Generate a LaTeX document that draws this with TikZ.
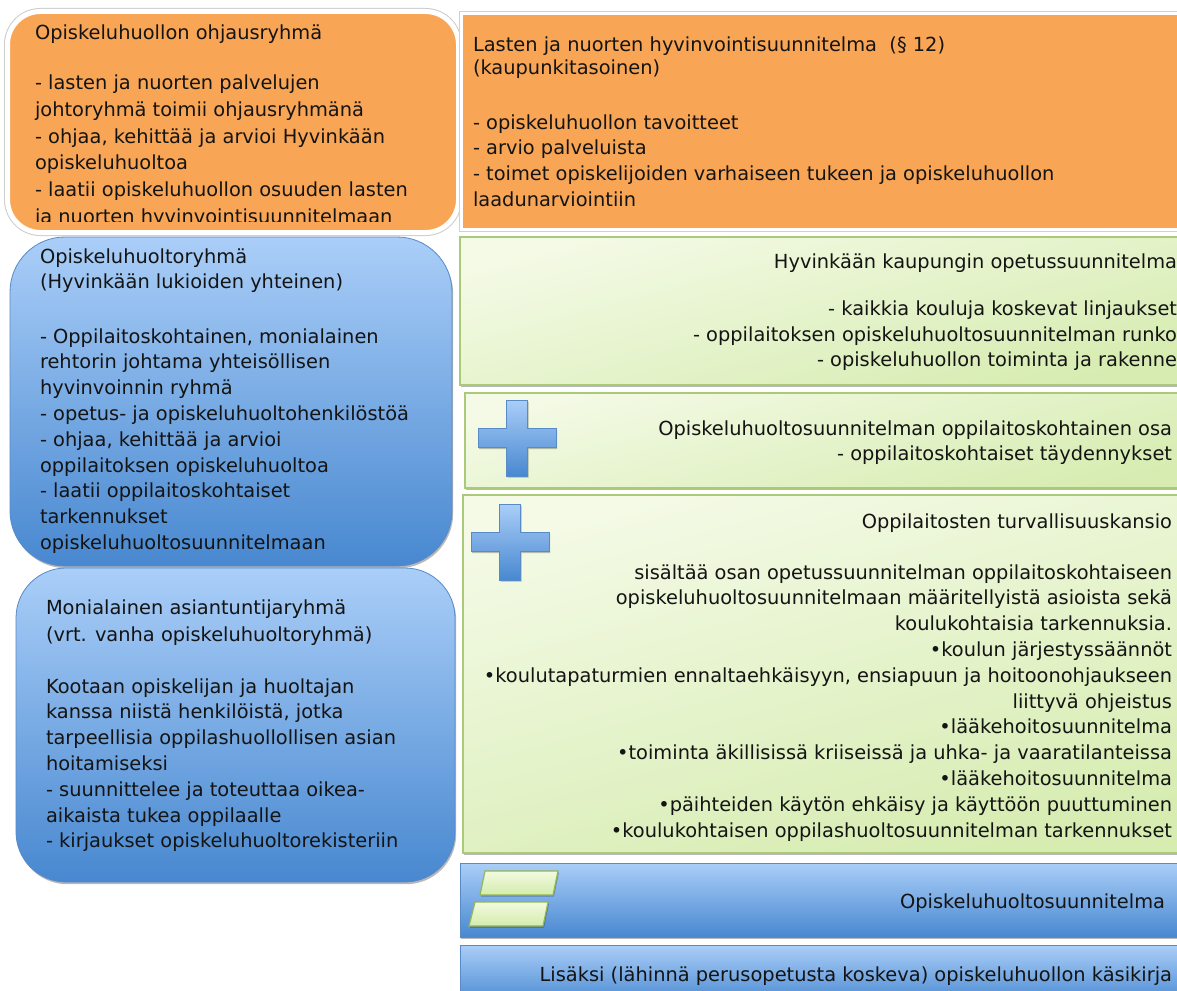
\documentclass[tikz,border=0pt]{standalone}
\usepackage{fontspec}
\setmainfont{DejaVu Sans}
\usetikzlibrary{shadows}

\definecolor{orangeC}{RGB}{248,166,86}
\definecolor{blueTop}{RGB}{170,206,248}
\definecolor{blueBot}{RGB}{72,136,208}
\definecolor{blueEdge}{RGB}{88,138,200}
\definecolor{greenTop}{RGB}{244,250,230}
\definecolor{greenBot}{RGB}{214,236,176}
\definecolor{greenEdge}{RGB}{170,202,122}
\definecolor{paraTop}{RGB}{242,250,224}
\definecolor{paraBot}{RGB}{212,236,172}
\definecolor{paraEdge}{RGB}{150,182,82}
\definecolor{inkC}{RGB}{20,20,20}

\tikzset{
  softshadow/.style={drop shadow={shadow xshift=1.2pt, shadow yshift=-2.2pt, opacity=0.28, fill=black}},
  panel/.style={inner sep=0pt, outer sep=0pt, anchor=north west, softshadow},
  orangeround/.style={panel, preaction={draw=black!20, line width=7pt}, fill=orangeC, draw=white,
                      line width=5pt, rounded corners=33pt},
  orangerect/.style={panel, preaction={draw=black!18, line width=4.6pt}, fill=orangeC, draw=white, line width=3pt},
  blueround/.style={panel, top color=blueTop, bottom color=blueBot, draw=blueEdge, line width=0.8pt},
  greenrect/.style={panel, top color=greenTop, bottom color=greenBot, shading angle=15, draw=greenEdge, line width=1.4pt},
  bluerect/.style={panel, top color=blueTop, bottom color=blueBot, draw=blueEdge, line width=1pt},
  txt/.style={inner sep=0pt, outer sep=0pt, text=inkC, align=left, anchor=north west,
              font=\fontsize{19.4}{25.8}\selectfont},
  rtxt/.style={txt, align=right, anchor=north east},
  plusshape/.style={top color=blueTop, bottom color=blueBot, draw=blueEdge, line width=1pt,
                    drop shadow={shadow xshift=1pt, shadow yshift=-1.5pt, opacity=0.25, fill=black}},
  parashape/.style={top color=paraTop, bottom color=paraBot, draw=paraEdge, line width=1.2pt,
                    drop shadow={shadow xshift=1pt, shadow yshift=-1.5pt, opacity=0.25, fill=black}},
  pics/plusicon/.style={code={
    \path[plusshape] (-10.5,-38) -- (10.5,-38) -- (10.5,-9.5) -- (39,-9.5) -- (39,9.5)
      -- (10.5,9.5) -- (10.5,38) -- (-10.5,38) -- (-10.5,9.5) -- (-39,9.5) -- (-39,-9.5)
      -- (-10.5,-9.5) -- cycle;
  }},
}

\begin{document}
\begin{tikzpicture}[x=1pt,y=-1pt]
\useasboundingbox (0,0) rectangle (1177,990);
\clip (0,0) rectangle (1177,990);
\fill[white] (0,0) rectangle (1177,990);

% ---- left column: groups ----
\node[orangeround, minimum width=451pt, minimum height=221pt] (ohjaus) at (7.5,11.5) {};
\node[blueround, rounded corners=55pt, minimum width=442pt, minimum height=329pt] (ryhma) at (10,237) {};
\node[blueround, rounded corners=50pt, minimum width=439pt, minimum height=314pt] (asiant) at (16,568) {};

% ---- right column: plans ----
\node[orangerect, minimum width=740pt, minimum height=216pt] (hyvsuun) at (461,13.5) {};
\node[greenrect, minimum width=740pt, minimum height=148pt] (ops) at (460,237) {};
\node[greenrect, minimum width=740pt, minimum height=95pt] (osa) at (465,393) {};
\node[greenrect, minimum width=740pt, minimum height=358pt] (kansio) at (463,495) {};
\node[bluerect, minimum width=740pt, minimum height=74pt] (osuun) at (460,863) {};
\node[bluerect, minimum width=740pt, minimum height=60pt] (kasikirja) at (460,945) {};

% ---- icons ----
\pic at (517,438) {plusicon};
\pic at (510,542) {plusicon};
\path[parashape] (485,871) -- (558,871) -- (553,895) -- (480,895) -- cycle;
\path[parashape] (475,902) -- (548,902) -- (543,926) -- (469,926) -- cycle;

% ---- texts: left column ----
\begin{scope}
\clip (0,0) rectangle (460,221);
\node[txt] (ohjausT) at (35,21) {\strut Opiskeluhuollon ohjausryhmä};
\node[txt, font=\fontsize{19.4}{26.7}\selectfont] (ohjausB) at (35,71) {\strut - lasten ja nuorten palvelujen\\
johtoryhmä toimii ohjausryhmänä\\
- ohjaa, kehittää ja arvioi Hyvinkään\\
opiskeluhuoltoa\\
- laatii opiskeluhuollon osuuden lasten\\
ja nuorten hyvinvointisuunnitelmaan};
\end{scope}

\begin{scope}
\clip (0,230) rectangle (460,552);
\node[txt, font=\fontsize{19.4}{25}\selectfont] (ryhmaT) at (40,246) {\strut Opiskeluhuoltoryhmä\\
(Hyvinkään lukioiden yhteinen)};
\node[txt] (ryhmaB) at (40,325) {\strut - Oppilaitoskohtainen, monialainen\\
rehtorin johtama yhteisöllisen\\
hyvinvoinnin ryhmä\\
- opetus- ja opiskeluhuoltohenkilöstöä\\
- ohjaa, kehittää ja arvioi\\
oppilaitoksen opiskeluhuoltoa\\
- laatii oppilaitoskohtaiset\\
tarkennukset\\
opiskeluhuoltosuunnitelmaan};
\end{scope}

\node[txt, font=\fontsize{19.4}{27}\selectfont] (asiantT) at (46,596) {\strut Monialainen asiantuntijaryhmä\\
(vrt. vanha opiskeluhuoltoryhmä)};
\node[txt] (asiantB) at (46,675) {\strut Kootaan opiskelijan ja huoltajan\\
kanssa niistä henkilöistä, jotka\\
tarpeellisia oppilashuollollisen asian\\
hoitamiseksi\\
- suunnittelee ja toteuttaa oikea-\\
aikaista tukea oppilaalle\\
- kirjaukset opiskeluhuoltorekisteriin};

% ---- texts: right column ----
\node[txt, font=\fontsize{19.4}{23}\selectfont] (hyvsuunT) at (473,35) {\strut Lasten ja nuorten hyvinvointisuunnitelma~~(§ 12)\\
(kaupunkitasoinen)};
\node[txt] (hyvsuunB) at (473,111) {\strut - opiskeluhuollon tavoitteet\\
- arvio palveluista\\
- toimet opiskelijoiden varhaiseen tukeen ja opiskeluhuollon\\
laadunarviointiin};

\node[rtxt] (opsT) at (1177,250) {\strut Hyvinkään kaupungin opetussuunnitelma};
\node[rtxt, font=\fontsize{19.4}{25.5}\selectfont] (opsB) at (1177,298) {\strut - kaikkia kouluja koskevat linjaukset\\
- oppilaitoksen opiskeluhuoltosuunnitelman runko\\
- opiskeluhuollon toiminta ja rakenne};

\node[rtxt, font=\fontsize{19.4}{25}\selectfont] (osaT) at (1172,418) {\strut Opiskeluhuoltosuunnitelman oppilaitoskohtainen osa\\
- oppilaitoskohtaiset täydennykset};

\node[rtxt] (kansioT) at (1172,510) {\strut Oppilaitosten turvallisuuskansio};
\node[rtxt] (kansioB) at (1172,561) {\strut sisältää osan opetussuunnitelman oppilaitoskohtaiseen\\
opiskeluhuoltosuunnitelmaan määritellyistä asioista sekä\\
koulukohtaisia tarkennuksia.\\
•koulun järjestyssäännöt\\
•koulutapaturmien ennaltaehkäisyyn, ensiapuun ja hoitoonohjaukseen\\
liittyvä ohjeistus\\
•lääkehoitosuunnitelma\\
•toiminta äkillisissä kriiseissä ja uhka- ja vaaratilanteissa\\
•lääkehoitosuunnitelma\\
•päihteiden käytön ehkäisy ja käyttöön puuttuminen\\
•koulukohtaisen oppilashuoltosuunnitelman tarkennukset};

\node[rtxt] (osuunT) at (1165,890) {\strut Opiskeluhuoltosuunnitelma};
\node[rtxt] (kasikirjaT) at (1172,963) {\strut Lisäksi (lähinnä perusopetusta koskeva) opiskeluhuollon käsikirja};
\end{tikzpicture}
\end{document}
